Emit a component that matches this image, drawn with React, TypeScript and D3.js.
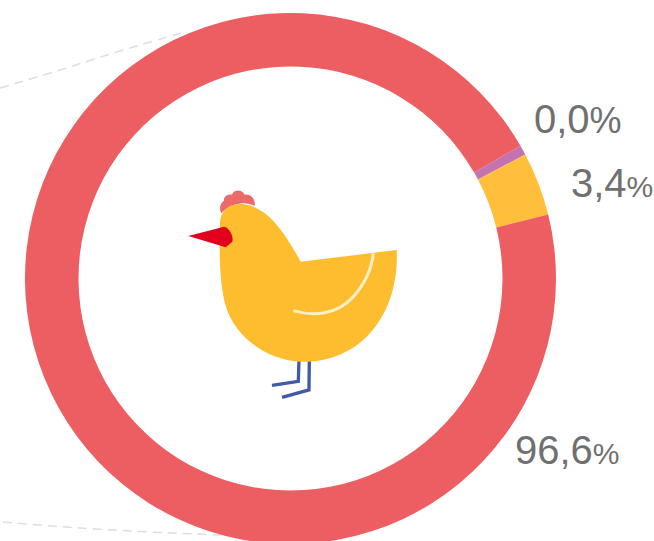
import React from "react";
import * as d3 from "d3";

const categories = ["Autre", "Volaille", "Reste"];
// shares as measured on the ring, the printed labels are rounded differently
const arcShares = [0.6, 3.86, 95.54];
const sliceColors = ["#c472b2", "#ffbf3a", "#ec5e61"];

const labelWhole = ["0,0", "3,4", "96,6"];
const labelX = [534, 571, 515];
const labelY = [133, 197, 464];
const percentSize = [36, 30, 30];

const upperLeader: [number, number][] = [[0, 88], [60, 70], [120, 51], [182, 33]];
const lowerLeader: [number, number][] = [[3, 522], [80, 528], [150, 532], [222, 535]];

const width = 654;
const height = 541;
const cx = 290.5;
const cy = 278.5;
const startDeg = 60;

const App = () => {
  const pie = d3
    .pie<number>()
    .sort(null)
    .startAngle((startDeg * Math.PI) / 180)
    .endAngle(((startDeg + 360) * Math.PI) / 180);
  const arc = d3.arc<d3.PieArcDatum<number>>().innerRadius(212).outerRadius(265.5);
  const leader = d3.line().curve(d3.curveMonotoneX);
  const slices = pie(arcShares);

  return (
    <svg
      width={width}
      height={height}
      style={{ position: "absolute", left: 0, top: 0, background: "#fff" }}
    >
      <defs>
        <filter id="soft" x="-5%" y="-5%" width="110%" height="110%">
          <feGaussianBlur stdDeviation="2" />
        </filter>
      </defs>
      <path d={leader(upperLeader) || ""} fill="none" stroke="#dedede" strokeWidth={1.5} strokeDasharray="9 6" />
      <path d={leader(lowerLeader) || ""} fill="none" stroke="#dedede" strokeWidth={1.5} strokeDasharray="9 6" />

      <g transform={`translate(${cx},${cy})`}>
        {slices.map((d, i) => (
          <path key={categories[i]} d={arc(d) || ""} fill={sliceColors[i]} />
        ))}
      </g>

      {/* chicken, traced from a 3x crop */}
      <g transform="translate(180,180) scale(0.3333)" filter="url(#soft)">
        <g fill="none" stroke="#3f5ba9" strokeWidth={10}>
          <path d="M357 540 L355 604 L276 616" />
          <path d="M388 540 L387 630 L306 652" />
        </g>
        <path
          d="M124 100 C116 85 122 68 132 62 C130 48 146 42 156 44 C160 28 186 26 194 44 C212 40 228 58 224 78 C195 62 150 70 124 100 Z"
          fill="#ec6a6a"
        />
        <path
          d="M120 130 C120 90 150 70 185 72 C250 78 300 130 362 245 L650 210 C655 300 630 400 560 470 C500 530 420 548 360 545 C260 540 160 470 135 370 C118 300 118 220 120 130 Z"
          fill="#fdbd2e"
        />
        <path
          d="M340 392 C400 410 470 405 520 350 C555 310 575 270 580 220"
          fill="none"
          stroke="#fdf0c8"
          strokeWidth={9}
        />
        <path d="M25 168 L132 140 C146 140 162 170 157 185 L137 202 Z" fill="#e2001a" />
      </g>

      {labelWhole.map((t, i) => (
        <text
          key={t}
          x={labelX[i]}
          y={labelY[i]}
          fontFamily="Liberation Sans"
          fontSize={40}
          fill="#707070"
        >
          {t}
          <tspan fontSize={percentSize[i]}>%</tspan>
        </text>
      ))}
    </svg>
  );
};

export default App;
